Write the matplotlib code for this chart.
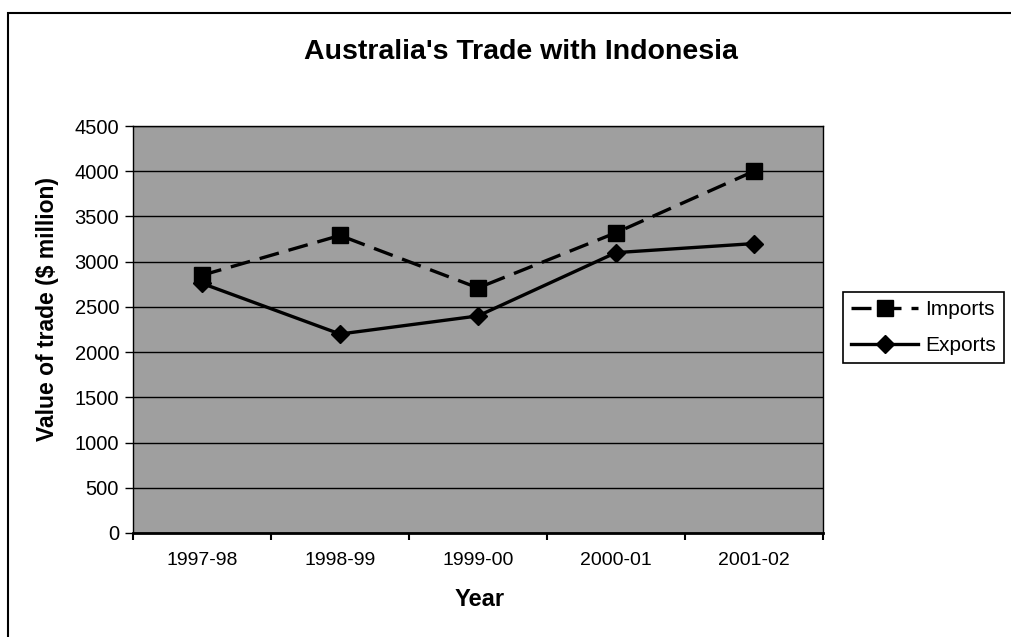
import matplotlib
matplotlib.use('Agg')
import matplotlib.pyplot as plt
from matplotlib.patches import Rectangle

years = ['1997-98', '1998-99', '1999-00', '2000-01', '2001-02']
imports = [2850, 3290, 2710, 3320, 4000]
exports = [2760, 2200, 2400, 3100, 3200]
y_ticks = [0, 500, 1000, 1500, 2000, 2500, 3000, 3500, 4000, 4500]

plt.rcParams['font.family'] = ['Liberation Sans', 'DejaVu Sans']

W, H = 1012, 637
fig = plt.figure(figsize=(W / 100, H / 100), dpi=100)

# chart area border (cut off on right and bottom like the scan)
fig.add_artist(Rectangle((8 / W, -0.05), 1.1, 1 - 13 / H + 0.05,
                         transform=fig.transFigure, fill=False,
                         edgecolor='black', linewidth=1.5))

ax = fig.add_axes([133 / W, 1 - 533 / H, (823 - 133) / W, (533 - 126) / H])
ax.set_facecolor('#9f9f9f')

x = list(range(len(years)))
imp_line, = ax.plot(x, imports, color='black', linewidth=2.4, linestyle='--',
                    marker='s', markersize=12, label='Imports')
imp_line.set_dashes([6, 3])
ax.plot(x, exports, color='black', linewidth=2.4, marker='D',
        markersize=9, label='Exports')

ax.set_xlim(-0.5, len(years) - 0.5)
ax.set_ylim(0, 4500)
ax.set_yticks(y_ticks)
ax.yaxis.grid(True, color='black', linewidth=1)
ax.set_axisbelow(True)

# category labels centred, tick marks between categories
ax.set_xticks(x)
ax.set_xticklabels(years, fontsize=14)
ax.tick_params(axis='x', length=0, pad=14)
ax.set_xticks([i + 0.5 for i in range(-1, len(years))], minor=True)
ax.tick_params(axis='x', which='minor', length=5, width=1.5, direction='out')
ax.tick_params(axis='y', labelsize=14.5, length=6, width=1, pad=4)

for s in ax.spines.values():
    s.set_color('black')
    s.set_linewidth(1)
ax.spines['bottom'].set_linewidth(2)

fig.text(521 / W, 1 - 52 / H, "Australia's Trade with Indonesia",
         ha='center', va='center', fontsize=20.5, fontweight='bold')
fig.text(48 / W, 1 - 309 / H, 'Value of trade ($ million)', rotation=90,
         ha='center', va='center', fontsize=16.5, fontweight='bold')
fig.text(480 / W, 1 - 600 / H, 'Year', ha='center', va='center',
         fontsize=17, fontweight='bold')

leg = fig.legend(loc='upper left', bbox_to_anchor=(843 / W, 1 - 292 / H),
                 fontsize=15, frameon=True, fancybox=False, edgecolor='black',
                 framealpha=1, handlelength=3.2, handletextpad=0.35,
                 borderpad=0.4, labelspacing=0.8, borderaxespad=0)
leg.get_frame().set_linewidth(1.2)

fig.savefig('out.png', dpi=100)
